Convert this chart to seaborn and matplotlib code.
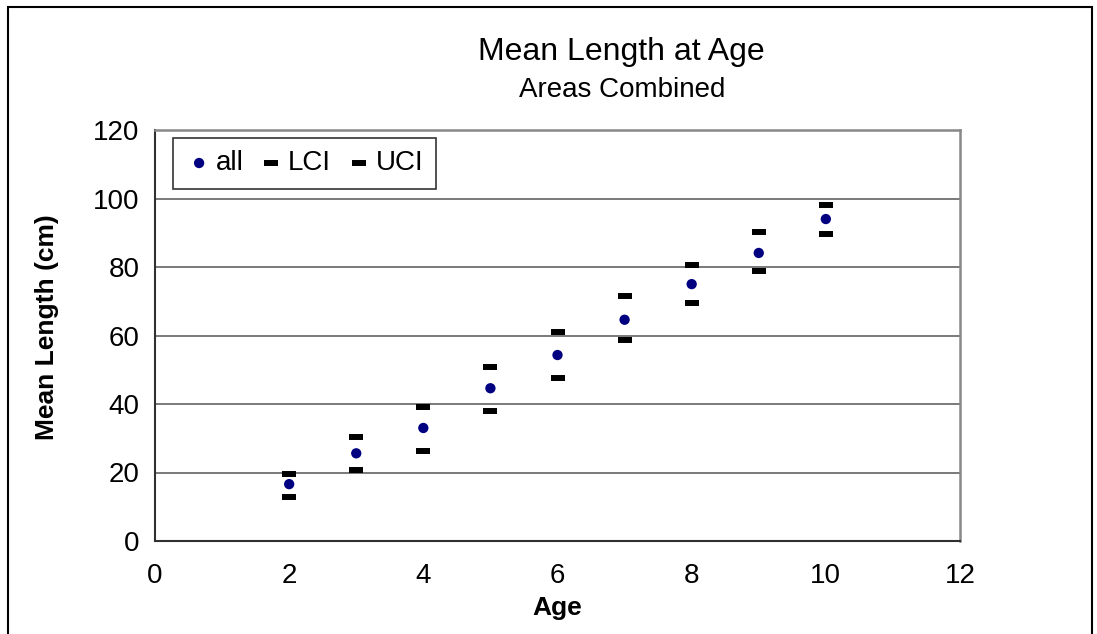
import pandas as pd
import matplotlib
matplotlib.use('Agg')
import matplotlib.pyplot as plt
import seaborn as sns
from matplotlib.patches import Rectangle

# 数据：年龄、平均体长及置信区间上下限
ages = [2, 3, 4, 5, 6, 7, 8, 9, 10]
mean_len = [16.6, 25.6, 33.0, 44.6, 54.3, 64.6, 75.0, 84.1, 94.0]
lci = [12.8, 20.7, 26.3, 37.9, 47.6, 58.6, 69.6, 78.7, 89.7]
uci = [19.5, 30.5, 39.1, 50.7, 60.9, 71.4, 80.5, 90.3, 98.2]
x_ticks = [0, 2, 4, 6, 8, 10, 12]
y_ticks = [0, 20, 40, 60, 80, 100, 120]

df = pd.DataFrame({'Age': ages, 'all': mean_len, 'LCI': lci, 'UCI': uci})

sns.set_style('white')
plt.rcParams['font.family'] = ['Liberation Sans', 'DejaVu Sans']
plt.rcParams['text.color'] = 'black'

fig = plt.figure(figsize=(10.97, 6.34), dpi=100)
ax = fig.add_axes([155/1097, 1-541/634, 805/1097, 411/634])

# 绘制散点
sns.scatterplot(data=df, x='Age', y='all', ax=ax, color='#000080', s=55,
                edgecolor='none', label='all', zorder=3)
sns.scatterplot(data=df, x='Age', y='LCI', ax=ax, color='black', marker='_',
                s=90, linewidth=4.3, label='LCI', zorder=3)
sns.scatterplot(data=df, x='Age', y='UCI', ax=ax, color='black', marker='_',
                s=90, linewidth=4.3, label='UCI', zorder=3)

ax.set_xlim(0, 12)
ax.set_ylim(0, 120)
ax.set_xticks(x_ticks)
ax.set_yticks(y_ticks)
ax.tick_params(axis='both', labelsize=20, length=6, width=1.2, direction='out',
               color='#303030', labelcolor='black')
ax.tick_params(axis='x', pad=10)
ax.tick_params(axis='y', pad=5)
ax.set_xlabel('')
ax.set_ylabel('')

# 网格线
for yv in y_ticks[1:-1]:
    ax.axhline(yv, color='#555555', lw=1.1, zorder=1)

for side in ['left', 'bottom']:
    ax.spines[side].set_color('#303030')
    ax.spines[side].set_linewidth(1.5)
for side in ['top', 'right']:
    ax.spines[side].set_color('#888888')
    ax.spines[side].set_linewidth(1.8)

leg = ax.legend(loc='upper left', bbox_to_anchor=(0.022, 0.981), borderaxespad=0,
                ncol=3, fontsize=20, frameon=True, fancybox=False,
                handletextpad=0.1, columnspacing=0.5, borderpad=0.45,
                handlelength=1.0)
leg.get_frame().set_edgecolor('black')
leg.get_frame().set_linewidth(1.2)
for t in leg.get_texts():
    t.set_color('black')

# 标题与坐标轴标签
fig.text(621/1097, 1-60/634, 'Mean Length at Age', ha='center', va='baseline', fontsize=23)
fig.text(622/1097, 1-97/634, 'Areas Combined', ha='center', va='baseline', fontsize=20)
fig.text(557/1097, 1-615/634, 'Age', ha='center', va='baseline', fontsize=19, fontweight='bold')
fig.text(47/1097, 1-327/634, 'Mean Length (cm)', ha='center', va='center', rotation=90,
         fontsize=19, fontweight='bold')

# 外框
fig.patches.append(Rectangle((8/1097, -0.05), 1084/1097, 1.05 - 7/634,
                             transform=fig.transFigure, fill=False,
                             edgecolor='black', lw=1.5))

fig.savefig('out.png', dpi=100)
